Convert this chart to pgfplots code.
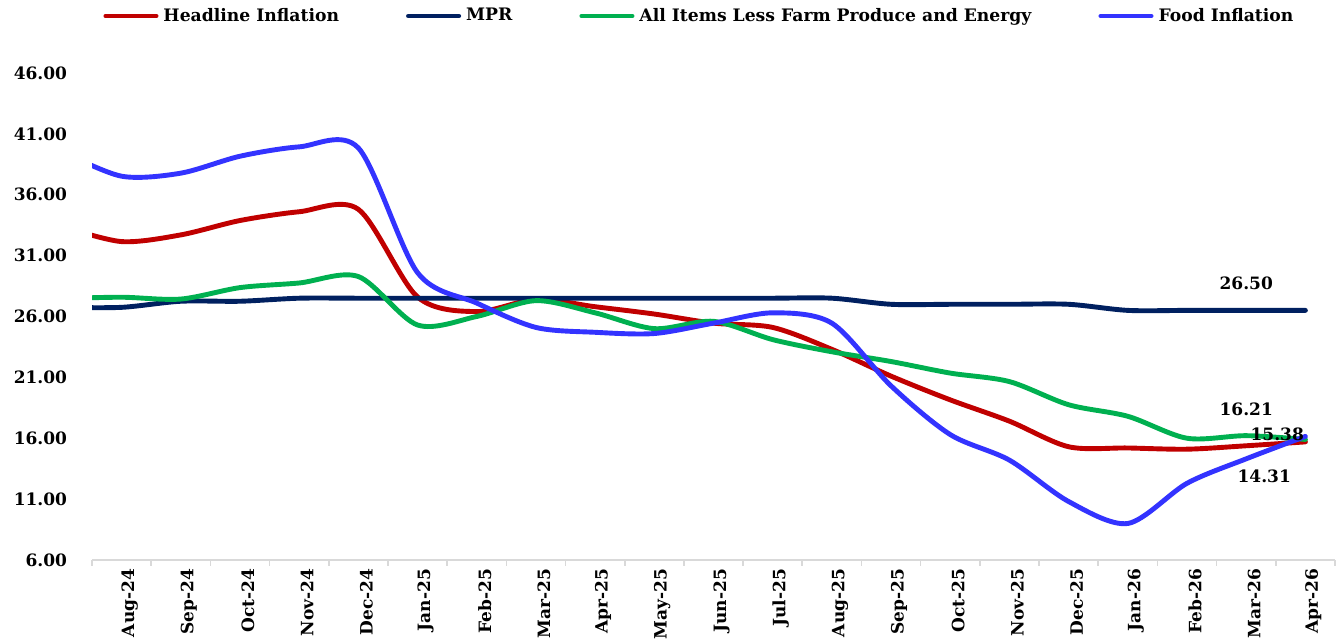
\documentclass[border=0pt]{standalone}
\usepackage{fontspec}
\setmainfont{DejaVu Serif}
\usepackage{pgfplots}
\pgfplotsset{compat=1.18}
\definecolor{cRed}{HTML}{C00000}
\definecolor{cNavy}{HTML}{002060}
\definecolor{cGreen}{HTML}{00B050}
\definecolor{cBlue}{HTML}{3333FF}
\pgfplotstableread{
k  red    mpr    core   food
-1 33.40  26.75  27.47  39.53
0  32.15  26.75  27.58  37.52
1  32.70  27.25  27.43  37.77
2  33.88  27.25  28.37  39.16
3  34.60  27.50  28.75  39.93
4  34.80  27.50  29.28  39.84
5  27.60  27.50  25.30  29.60
6  26.40  27.50  26.00  27.10
7  27.40  27.50  27.30  25.10
8  26.80  27.50  26.30  24.70
9  26.20  27.50  25.00  24.60
10 25.45  27.50  25.60  25.45
11 25.10  27.50  24.10  26.30
12 23.30  27.50  23.10  25.45
13 21.10  27.00  22.30  20.30
14 19.15  27.00  21.35  16.30
15 17.40  27.00  20.65  14.20
16 15.30  27.00  18.75  10.80
17 15.20  26.50  17.80   9.00
18 15.10  26.50  16.00  12.30
19 15.38  26.50  16.21  14.31
20 15.70  26.50  15.90  16.15
}\datatable
\begin{document}
\begin{tikzpicture}
\begin{axis}[
  name=ax,
  scale only axis,
  width=621.5pt, height=255.7pt,
  xmin=-0.5, xmax=20.5, ymin=6, ymax=48,
  axis x line*=bottom, axis y line*=left,
  y axis line style={draw=none},
  x axis line style={draw=black!15, line width=0.8pt},
  xtick={0,...,20},
  xticklabels={Aug-24,Sep-24,Oct-24,Nov-24,Dec-24,Jan-25,Feb-25,Mar-25,Apr-25,May-25,Jun-25,Jul-25,Aug-25,Sep-25,Oct-25,Nov-25,Dec-25,Jan-26,Feb-26,Mar-26,Apr-26},
  major x tick style={draw=none},
  minor xtick={-0.5,0.5,...,20.5},
  minor x tick style={draw=black!15, line width=0.8pt},
  minor tick length=3pt,
  tick align=outside,
  ytick={6,11,...,46},
  ytick style={draw=none},
  tick label style={font=\bfseries\fontsize{8.5}{10}\selectfont},
  xticklabel style={rotate=90, anchor=east, inner sep=0pt, yshift=-4pt},
  yticklabel style={anchor=east, inner sep=0pt, xshift=-8pt},
  /pgf/number format/.cd, fixed, fixed zerofill, precision=2, assume math mode=true,
  /pgfplots/.cd,
  legend columns=4,
  legend style={draw=none, fill=none, inner sep=0pt, at={(0,1)}, anchor=west, xshift=5.5pt, yshift=16.3pt,
    font=\bfseries\fontsize{8.6}{10}\selectfont,
    /tikz/every odd column/.append style={column sep=2.5pt},
    /tikz/every even column/.append style={column sep=33.5pt},
    nodes={inner xsep=0pt, inner ysep=0pt}},
  legend image code/.code={\draw[#1, line cap=round] (1.2pt,0pt) -- (26.3pt,0pt);},
  every axis plot/.append style={smooth, line width=2.45pt, line cap=round, line join=round},
  clip=true,
]
\addplot[cRed] table[x=k, y=red] {\datatable};
\addlegendentry{Headline Inflation}
\addplot[cNavy] table[x=k, y=mpr] {\datatable};
\addlegendentry{MPR}
\addplot[cGreen] table[x=k, y=core] {\datatable};
\addlegendentry{All Items Less Farm Produce and Energy}
\addplot[cBlue] table[x=k, y=food] {\datatable};
\addlegendentry{Food Inflation}
\node[font=\bfseries\fontsize{8.5}{10}\selectfont] at (axis cs:19,26.5) [yshift=13.5pt] {26.50};
\node[font=\bfseries\fontsize{8.5}{10}\selectfont] at (axis cs:19,16.21) [yshift=13pt] {16.21};
\node[font=\bfseries\fontsize{8.5}{10}\selectfont] at (axis cs:19,15.38) [xshift=15.5pt,yshift=5.5pt] {15.38};
\node[font=\bfseries\fontsize{8.5}{10}\selectfont] at (axis cs:19,14.31) [xshift=9pt,yshift=-9pt] {14.31};
\end{axis}
\pgfresetboundingbox
\path ([xshift=-46pt,yshift=-40.5pt]ax.south west) rectangle ([xshift=2.5pt,yshift=24.3pt]ax.north east);
\end{tikzpicture}
\end{document}
